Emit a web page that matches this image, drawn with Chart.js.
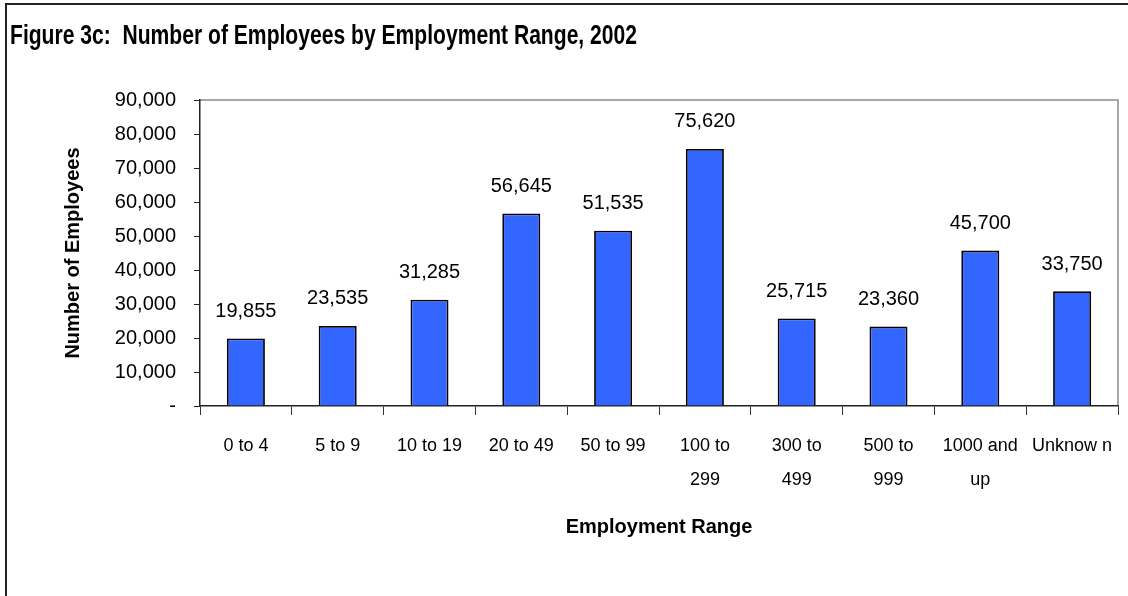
<!DOCTYPE html>
<html>
<head>
<meta charset="utf-8">
<script src="https://cdn.jsdelivr.net/npm/chart.js@4/dist/chart.umd.min.js"></script>
<style>
    html, body { margin: 0; padding: 0; background: #fff; }
    #wrap { position: relative; width: 1128px; height: 596px; }
</style>
</head>
<body>
<div id="wrap"><canvas id="chart"></canvas></div>
<script>
// Employment range categories (multi-line where the label wraps)
const ranges = [
    '0 to 4', '5 to 9', '10 to 19', '20 to 49', '50 to 99',
    ['100 to', '299'], ['300 to', '499'], ['500 to', '999'], ['1000 and', 'up'], 'Unknow n'
];
const employees = [19855, 23535, 31285, 56645, 51535, 75620, 25715, 23360, 45700, 33750];
const yTicks = [0, 10000, 20000, 30000, 40000, 50000, 60000, 70000, 80000, 90000];

const titleText = 'Figure 3c:  Number of Employees by Employment Range, 2002';
const plainFont = "'Liberation Sans', Arial, sans-serif";

// Frame, title and the grey top/right edge of the plot area
const framePlugin = {
    id: 'frame',
    beforeDraw(chart) {
        const { ctx, chartArea } = chart;
        ctx.save();
        ctx.strokeStyle = '#222';
        ctx.lineWidth = 2;
        ctx.beginPath();
        ctx.moveTo(6, 596);
        ctx.lineTo(6, 4);
        ctx.lineTo(1128, 4);
        ctx.stroke();

        ctx.strokeStyle = '#8c8c8c';
        ctx.lineWidth = 1.5;
        ctx.beginPath();
        ctx.moveTo(chartArea.left, chartArea.top);
        ctx.lineTo(chartArea.right, chartArea.top);
        ctx.lineTo(chartArea.right, chartArea.bottom);
        ctx.stroke();

        // title in a condensed bold face: squeeze the text horizontally
        ctx.fillStyle = '#000';
        ctx.font = 'bold 28px ' + plainFont;
        ctx.textBaseline = 'middle';
        ctx.textAlign = 'left';
        const w = ctx.measureText(titleText).width;
        ctx.translate(10, 36);
        ctx.scale(627 / w, 1);
        ctx.fillText(titleText, 0, 0);
        ctx.restore();
    }
};

// Value labels above each bar
const valueLabels = {
    id: 'valueLabels',
    afterDatasetsDraw(chart) {
        const { ctx } = chart;
        const meta = chart.getDatasetMeta(0);
        ctx.save();
        ctx.fillStyle = '#000';
        ctx.font = '20px ' + plainFont;
        ctx.textAlign = 'center';
        ctx.textBaseline = 'middle';
        meta.data.forEach((bar, i) => {
            ctx.fillText(employees[i].toLocaleString('en-US'), bar.x, bar.y - 27);
        });
        ctx.restore();
    }
};

new Chart(document.getElementById('chart'), {
    type: 'bar',
    data: {
        labels: ranges,
        datasets: [{
            data: employees,
            backgroundColor: '#3366FF',
            borderColor: '#000',
            borderWidth: 1.8,
            categoryPercentage: 1,
            barPercentage: 0.414
        }]
    },
    options: {
        responsive: true,
        maintainAspectRatio: false,
        animation: false,
        layout: { padding: { left: 0, top: 100, right: 10, bottom: 0 } },
        plugins: {
            legend: { display: false },
            tooltip: { enabled: false }
        },
        scales: {
            x: {
                grid: {
                    drawOnChartArea: false,
                    drawTicks: true,
                    tickLength: 9,
                    color: '#333',
                    offset: true
                },
                border: { color: '#222', width: 1.5 },
                ticks: {
                    color: '#000',
                    padding: 14,
                    maxRotation: 0,
                    autoSkip: false,
                    font: { family: plainFont, size: 18, lineHeight: 1.89 }
                },
                title: {
                    display: true,
                    text: 'Employment Range',
                    color: '#000',
                    font: { family: plainFont, size: 20, weight: 'bold' },
                    padding: { top: 0, bottom: 57 }
                },
                afterFit(scale) { scale.height = 190; }
            },
            y: {
                min: 0,
                max: 90000,
                afterBuildTicks(scale) {
                    scale.ticks = yTicks.map(v => ({ value: v }));
                },
                grid: {
                    drawOnChartArea: false,
                    drawTicks: true,
                    tickLength: 6,
                    color: '#222'
                },
                border: { color: '#222', width: 1.5 },
                ticks: {
                    color: '#000',
                    padding: 18,
                    font: { family: plainFont, size: 20 },
                    callback: v => v === 0 ? '-' : v.toLocaleString('en-US')
                },
                title: {
                    display: true,
                    text: 'Number of Employees',
                    color: '#000',
                    font: { family: plainFont, size: 20, weight: 'bold' },
                    padding: { top: 61, bottom: 0 }
                },
                afterFit(scale) { scale.width = 200; }
            }
        }
    },
    plugins: [framePlugin, valueLabels]
});
</script>
</body>
</html>
